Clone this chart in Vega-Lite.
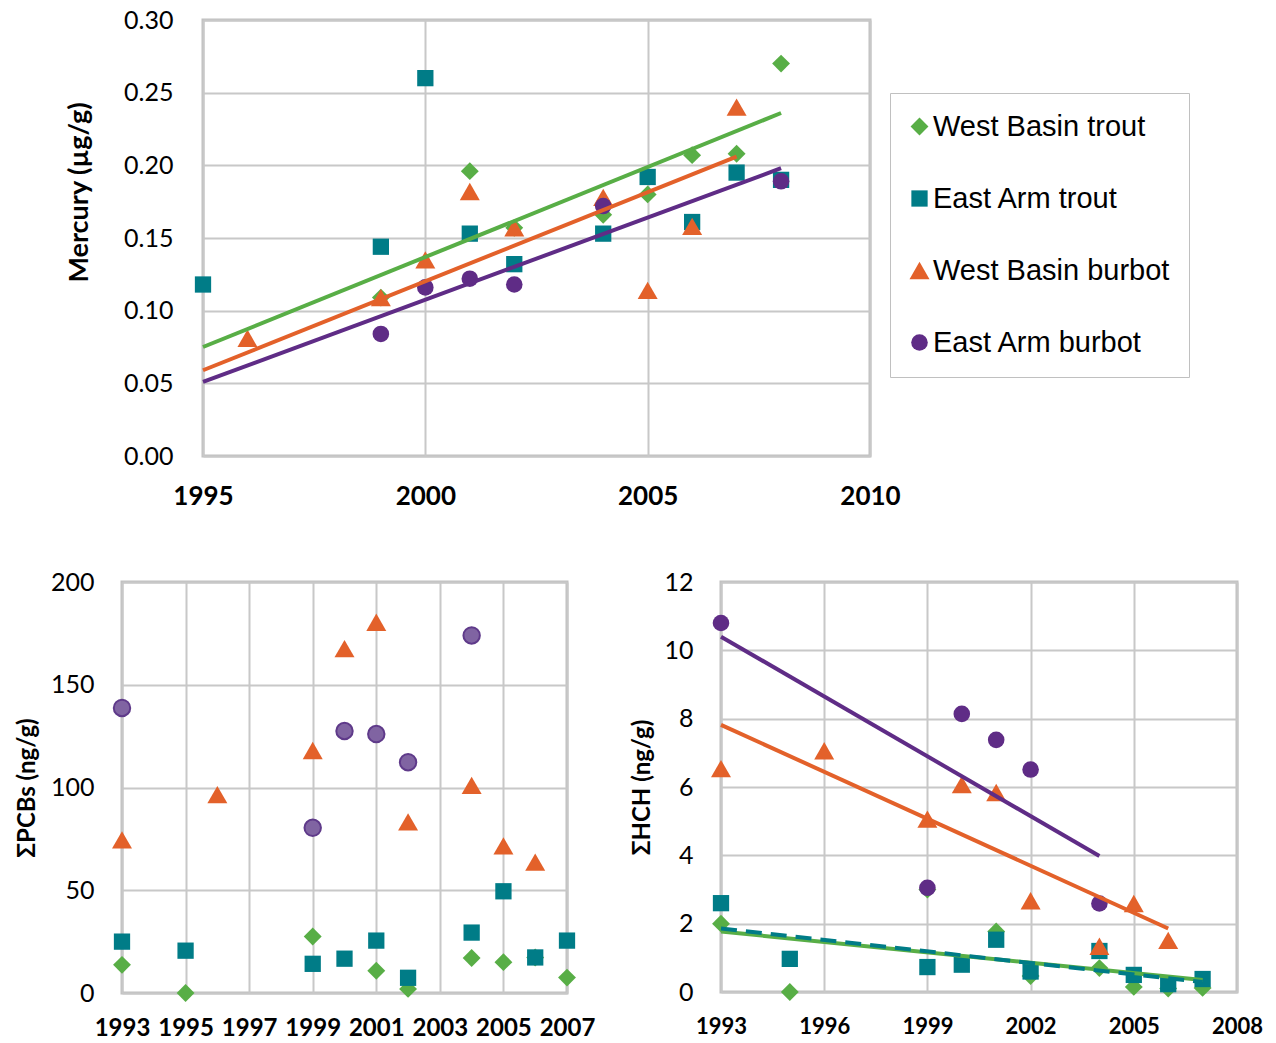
{
  "$schema": "https://vega.github.io/schema/vega-lite/v6.json",
  "background": "white",
  "padding": {"left": 13, "top": 6, "right": 0, "bottom": 0},
  "config": {
    "view": {"stroke": "#C0C0C0", "strokeWidth": 3},
    "axis": {"domain": false, "ticks": false, "grid": true, "gridColor": "#C8C8C8", "gridWidth": 2, "labelColor": "black", "titleColor": "black", "labelFont": "Lato", "titleFont": "Lato", "labelOverlap": false, "labelFlush": false, "labelBound": false},
    "point": {"opacity": 1}
  },
  "datasets": {
    "hg": [
      {"series": "West Basin trout", "year": 1999, "value": 0.109},
      {"series": "West Basin trout", "year": 2001, "value": 0.196},
      {"series": "West Basin trout", "year": 2002, "value": 0.157},
      {"series": "West Basin trout", "year": 2004, "value": 0.166},
      {"series": "West Basin trout", "year": 2005, "value": 0.180},
      {"series": "West Basin trout", "year": 2006, "value": 0.207},
      {"series": "West Basin trout", "year": 2007, "value": 0.208},
      {"series": "West Basin trout", "year": 2008, "value": 0.270},
      {"series": "East Arm trout", "year": 1995, "value": 0.118},
      {"series": "East Arm trout", "year": 1999, "value": 0.144},
      {"series": "East Arm trout", "year": 2000, "value": 0.260},
      {"series": "East Arm trout", "year": 2001, "value": 0.153},
      {"series": "East Arm trout", "year": 2002, "value": 0.132},
      {"series": "East Arm trout", "year": 2004, "value": 0.153},
      {"series": "East Arm trout", "year": 2005, "value": 0.192},
      {"series": "East Arm trout", "year": 2006, "value": 0.161},
      {"series": "East Arm trout", "year": 2007, "value": 0.195},
      {"series": "East Arm trout", "year": 2008, "value": 0.190},
      {"series": "West Basin burbot", "year": 1996, "value": 0.081},
      {"series": "West Basin burbot", "year": 1999, "value": 0.109},
      {"series": "West Basin burbot", "year": 2000, "value": 0.135},
      {"series": "West Basin burbot", "year": 2001, "value": 0.182},
      {"series": "West Basin burbot", "year": 2002, "value": 0.157},
      {"series": "West Basin burbot", "year": 2004, "value": 0.178},
      {"series": "West Basin burbot", "year": 2005, "value": 0.114},
      {"series": "West Basin burbot", "year": 2006, "value": 0.158},
      {"series": "West Basin burbot", "year": 2007, "value": 0.240},
      {"series": "East Arm burbot", "year": 1999, "value": 0.084},
      {"series": "East Arm burbot", "year": 2000, "value": 0.116},
      {"series": "East Arm burbot", "year": 2001, "value": 0.122},
      {"series": "East Arm burbot", "year": 2002, "value": 0.118},
      {"series": "East Arm burbot", "year": 2004, "value": 0.172},
      {"series": "East Arm burbot", "year": 2008, "value": 0.189}
    ],
    "hg_trend": [
      {"series": "West Basin trout", "year": 1995, "value": 0.075},
      {"series": "West Basin trout", "year": 2008, "value": 0.236},
      {"series": "West Basin burbot", "year": 1995, "value": 0.059},
      {"series": "West Basin burbot", "year": 2007, "value": 0.206},
      {"series": "East Arm burbot", "year": 1995, "value": 0.051},
      {"series": "East Arm burbot", "year": 2008, "value": 0.198}
    ],
    "pcb": [
      {"series": "West Basin trout", "year": 1993, "value": 13.7},
      {"series": "West Basin trout", "year": 1995, "value": 0},
      {"series": "West Basin trout", "year": 1999, "value": 27.5},
      {"series": "West Basin trout", "year": 2001, "value": 10.8},
      {"series": "West Basin trout", "year": 2002, "value": 2},
      {"series": "West Basin trout", "year": 2004, "value": 17},
      {"series": "West Basin trout", "year": 2005, "value": 15},
      {"series": "West Basin trout", "year": 2006, "value": 17.3},
      {"series": "West Basin trout", "year": 2007, "value": 7.5},
      {"series": "East Arm trout", "year": 1993, "value": 25},
      {"series": "East Arm trout", "year": 1995, "value": 20.6},
      {"series": "East Arm trout", "year": 1999, "value": 14.2},
      {"series": "East Arm trout", "year": 2000, "value": 16.7},
      {"series": "East Arm trout", "year": 2001, "value": 25.5},
      {"series": "East Arm trout", "year": 2002, "value": 7.4},
      {"series": "East Arm trout", "year": 2004, "value": 29.4},
      {"series": "East Arm trout", "year": 2005, "value": 49.5},
      {"series": "East Arm trout", "year": 2006, "value": 17.3},
      {"series": "East Arm trout", "year": 2007, "value": 25.5},
      {"series": "West Basin burbot", "year": 1993, "value": 74.5},
      {"series": "West Basin burbot", "year": 1996, "value": 96.5},
      {"series": "West Basin burbot", "year": 1999, "value": 118},
      {"series": "West Basin burbot", "year": 2000, "value": 167.6},
      {"series": "West Basin burbot", "year": 2001, "value": 180.4},
      {"series": "West Basin burbot", "year": 2002, "value": 83.3},
      {"series": "West Basin burbot", "year": 2004, "value": 101},
      {"series": "West Basin burbot", "year": 2005, "value": 71.6},
      {"series": "West Basin burbot", "year": 2006, "value": 63.7},
      {"series": "East Arm burbot", "year": 1993, "value": 138.7},
      {"series": "East Arm burbot", "year": 1999, "value": 80.4},
      {"series": "East Arm burbot", "year": 2000, "value": 127.5},
      {"series": "East Arm burbot", "year": 2001, "value": 126},
      {"series": "East Arm burbot", "year": 2002, "value": 112.3},
      {"series": "East Arm burbot", "year": 2004, "value": 174}
    ],
    "hch": [
      {"series": "West Basin trout", "year": 1993, "value": 2.0},
      {"series": "West Basin trout", "year": 1995, "value": 0},
      {"series": "West Basin trout", "year": 1999, "value": 3.0},
      {"series": "West Basin trout", "year": 2001, "value": 1.77},
      {"series": "West Basin trout", "year": 2002, "value": 0.47},
      {"series": "West Basin trout", "year": 2004, "value": 0.7},
      {"series": "West Basin trout", "year": 2005, "value": 0.15},
      {"series": "West Basin trout", "year": 2006, "value": 0.1},
      {"series": "West Basin trout", "year": 2007, "value": 0.12},
      {"series": "East Arm trout", "year": 1993, "value": 2.6},
      {"series": "East Arm trout", "year": 1995, "value": 0.97},
      {"series": "East Arm trout", "year": 1999, "value": 0.73},
      {"series": "East Arm trout", "year": 2000, "value": 0.8},
      {"series": "East Arm trout", "year": 2001, "value": 1.53},
      {"series": "East Arm trout", "year": 2002, "value": 0.6},
      {"series": "East Arm trout", "year": 2004, "value": 1.2},
      {"series": "East Arm trout", "year": 2005, "value": 0.5},
      {"series": "East Arm trout", "year": 2006, "value": 0.23},
      {"series": "East Arm trout", "year": 2007, "value": 0.38},
      {"series": "West Basin burbot", "year": 1993, "value": 6.54},
      {"series": "West Basin burbot", "year": 1996, "value": 7.06},
      {"series": "West Basin burbot", "year": 1999, "value": 5.06},
      {"series": "West Basin burbot", "year": 2000, "value": 6.07},
      {"series": "West Basin burbot", "year": 2001, "value": 5.84},
      {"series": "West Basin burbot", "year": 2002, "value": 2.67},
      {"series": "West Basin burbot", "year": 2004, "value": 1.34},
      {"series": "West Basin burbot", "year": 2005, "value": 2.59},
      {"series": "West Basin burbot", "year": 2006, "value": 1.51},
      {"series": "East Arm burbot", "year": 1993, "value": 10.8},
      {"series": "East Arm burbot", "year": 1999, "value": 3.05},
      {"series": "East Arm burbot", "year": 2000, "value": 8.14},
      {"series": "East Arm burbot", "year": 2001, "value": 7.38},
      {"series": "East Arm burbot", "year": 2002, "value": 6.51},
      {"series": "East Arm burbot", "year": 2004, "value": 2.59}
    ],
    "hch_trend": [
      {"series": "West Basin trout", "year": 1993, "value": 1.77},
      {"series": "West Basin trout", "year": 2007, "value": 0.35},
      {"series": "East Arm trout", "year": 1993, "value": 1.86},
      {"series": "East Arm trout", "year": 2007, "value": 0.29},
      {"series": "West Basin burbot", "year": 1993, "value": 7.82},
      {"series": "West Basin burbot", "year": 2006, "value": 1.86},
      {"series": "East Arm burbot", "year": 1993, "value": 10.4},
      {"series": "East Arm burbot", "year": 2004, "value": 3.98}
    ]
  },
  "spacing": 57,
  "align": "none",
  "vconcat": [
    {
      "spacing": 0,
      "bounds": "flush",
      "hconcat": [
        {
          "width": 81,
          "height": 10,
          "view": {"stroke": null},
          "data": {"values": []},
          "mark": {"type": "point", "opacity": 0}
        },
        {
          "width": 667,
          "height": 436,
          "layer": [
            {
              "data": {"name": "hg"},
              "mark": {"type": "point", "filled": true, "opacity": 1},
              "encoding": {
                "x": {"field": "year", "type": "quantitative", "scale": {"domain": [1995, 2010], "nice": false, "zero": false},
                      "axis": {"values": [1995, 2000, 2005, 2010], "format": "d", "title": null, "labelFontSize": 26, "labelFontWeight": "bold", "labelPadding": 27}},
                "y": {"field": "value", "type": "quantitative", "scale": {"domain": [0, 0.3], "nice": false},
                      "axis": {"values": [0, 0.05, 0.1, 0.15, 0.2, 0.25, 0.3], "format": ".2f", "title": "Mercury (µg/g)", "labelFontSize": 25, "labelPadding": 30, "titleFontSize": 27, "titleFontWeight": "bold", "titlePadding": 30, "titleY": 172}},
                "color": {"field": "series", "type": "nominal",
                          "scale": {"domain": ["West Basin trout", "East Arm trout", "West Basin burbot", "East Arm burbot"], "range": ["#58AE46", "#007C87", "#E3612A", "#5F2C86"]},
                          "legend": {"title": null, "orient": "none", "legendX": 768, "legendY": 73, "labelFont": "Liberation Sans", "labelFontSize": 29, "labelColor": "black", "symbolSize": 200, "rowPadding": 42, "padding": 19, "strokeColor": "#C0C0C0", "labelOffset": -1, "symbolOffset": -4, "symbolStrokeWidth": 0, "labelLimit": 400,
                                     "encode": {"symbols": {"update": {"size": {"signal": "datum.value == 'West Basin burbot' ? 330 : datum.value == 'West Basin trout' ? 240 : 210"}}}}}},
                "shape": {"field": "series", "type": "nominal",
                          "scale": {"domain": ["West Basin trout", "East Arm trout", "West Basin burbot", "East Arm burbot"], "range": ["diamond", "square", "triangle-up", "circle"]},
                          "legend": {"title": null, "orient": "none", "legendX": 768, "legendY": 73, "labelFont": "Liberation Sans", "labelFontSize": 29, "labelColor": "black", "symbolSize": 200, "rowPadding": 42, "padding": 19, "strokeColor": "#C0C0C0", "labelOffset": -1, "symbolOffset": -4, "symbolStrokeWidth": 0, "labelLimit": 400,
                                     "encode": {"symbols": {"update": {"size": {"signal": "datum.value == 'West Basin burbot' ? 330 : datum.value == 'West Basin trout' ? 240 : 210"}}}}}},
                "size": {"field": "series", "type": "nominal",
                         "scale": {"type": "ordinal", "domain": ["West Basin trout", "East Arm trout", "West Basin burbot", "East Arm burbot"], "range": [320, 265, 400, 275]}, "legend": null}
              }
            },
            {
              "data": {"name": "hg_trend"},
              "mark": {"type": "line", "strokeWidth": 4},
              "encoding": {
                "x": {"field": "year", "type": "quantitative"},
                "y": {"field": "value", "type": "quantitative"},
                "color": {"field": "series", "type": "nominal", "legend": null}
              }
            }
          ]
        }
      ]
    },
    {
      "spacing": 154,
      "bounds": "flush",
      "hconcat": [
        {
          "width": 445,
          "height": 411,
          "layer": [
            {
              "data": {"name": "pcb"},
              "transform": [{"filter": "datum.series != 'East Arm burbot'"}],
              "mark": {"type": "point", "filled": true, "opacity": 1},
              "encoding": {
                "x": {"field": "year", "type": "quantitative", "scale": {"domain": [1993, 2007], "nice": false, "zero": false},
                      "axis": {"values": [1993, 1995, 1997, 1999, 2001, 2003, 2005, 2007], "format": "d", "title": null, "labelFontSize": 24, "labelFontWeight": "bold", "labelPadding": 23}},
                "y": {"field": "value", "type": "quantitative", "scale": {"domain": [0, 200], "nice": false},
                      "axis": {"values": [0, 50, 100, 150, 200], "title": "ΣPCBs (ng/g)", "labelFontSize": 25, "labelPadding": 28, "titleFontSize": 24, "titleFontWeight": "bold", "titlePadding": 11}},
                "color": {"field": "series", "type": "nominal",
                          "scale": {"domain": ["West Basin trout", "East Arm trout", "West Basin burbot", "East Arm burbot"], "range": ["#58AE46", "#007C87", "#E3612A", "#5F2C86"]}, "legend": null},
                "shape": {"field": "series", "type": "nominal",
                          "scale": {"domain": ["West Basin trout", "East Arm trout", "West Basin burbot", "East Arm burbot"], "range": ["diamond", "square", "triangle-up", "circle"]}, "legend": null},
                "size": {"field": "series", "type": "nominal",
                         "scale": {"type": "ordinal", "domain": ["West Basin trout", "East Arm trout", "West Basin burbot", "East Arm burbot"], "range": [320, 265, 400, 275]}, "legend": null}
              }
            },
            {
              "data": {"name": "pcb"},
              "transform": [{"filter": "datum.series == 'East Arm burbot'"}],
              "mark": {"type": "point", "shape": "circle", "filled": true, "fill": "#8064A2", "stroke": "#5F3A8A", "strokeWidth": 2, "size": 270, "opacity": 1},
              "encoding": {
                "x": {"field": "year", "type": "quantitative"},
                "y": {"field": "value", "type": "quantitative"}
              }
            }
          ]
        },
        {
          "width": 516,
          "height": 410,
          "layer": [
            {
              "data": {"name": "hch"},
              "mark": {"type": "point", "filled": true, "opacity": 1},
              "encoding": {
                "x": {"field": "year", "type": "quantitative", "scale": {"domain": [1993, 2008], "nice": false, "zero": false},
                      "axis": {"values": [1993, 1996, 1999, 2002, 2005, 2008], "format": "d", "title": null, "labelFontSize": 22, "labelFontWeight": "bold", "labelPadding": 24}},
                "y": {"field": "value", "type": "quantitative", "scale": {"domain": [0, 12], "nice": false},
                      "axis": {"values": [0, 2, 4, 6, 8, 10, 12], "title": "ΣHCH (ng/g)", "labelFontSize": 25, "labelPadding": 28, "titleFontSize": 24, "titleFontWeight": "bold", "titlePadding": 9}},
                "color": {"field": "series", "type": "nominal",
                          "scale": {"domain": ["West Basin trout", "East Arm trout", "West Basin burbot", "East Arm burbot"], "range": ["#58AE46", "#007C87", "#E3612A", "#5F2C86"]}, "legend": null},
                "shape": {"field": "series", "type": "nominal",
                          "scale": {"domain": ["West Basin trout", "East Arm trout", "West Basin burbot", "East Arm burbot"], "range": ["diamond", "square", "triangle-up", "circle"]}, "legend": null},
                "size": {"field": "series", "type": "nominal",
                         "scale": {"type": "ordinal", "domain": ["West Basin trout", "East Arm trout", "West Basin burbot", "East Arm burbot"], "range": [320, 265, 400, 275]}, "legend": null}
              }
            },
            {
              "data": {"name": "hch_trend"},
              "transform": [{"filter": "datum.series != 'East Arm trout'"}],
              "mark": {"type": "line", "strokeWidth": 4},
              "encoding": {
                "x": {"field": "year", "type": "quantitative"},
                "y": {"field": "value", "type": "quantitative"},
                "color": {"field": "series", "type": "nominal", "legend": null}
              }
            },
            {
              "data": {"name": "hch_trend"},
              "transform": [{"filter": "datum.series == 'East Arm trout'"}],
              "mark": {"type": "line", "strokeWidth": 4, "strokeDash": [16, 9]},
              "encoding": {
                "x": {"field": "year", "type": "quantitative"},
                "y": {"field": "value", "type": "quantitative"},
                "color": {"field": "series", "type": "nominal", "legend": null}
              }
            }
          ]
        }
      ]
    }
  ]
}
